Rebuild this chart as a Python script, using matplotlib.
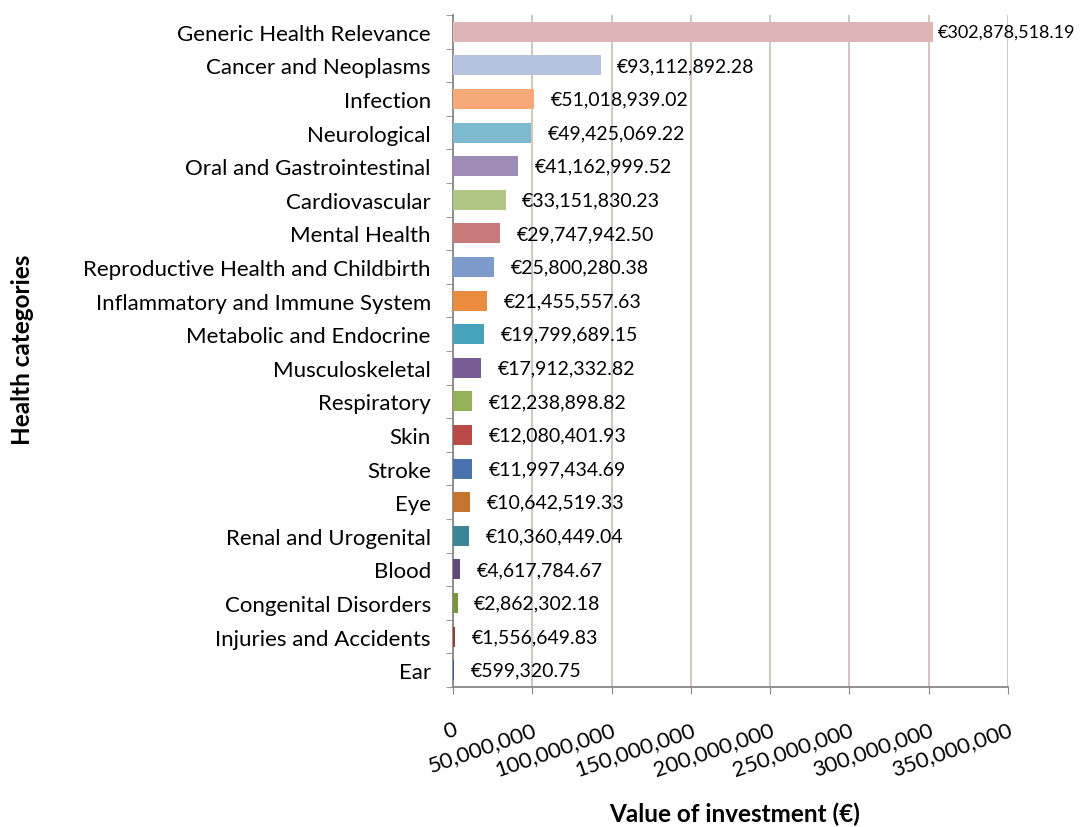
import matplotlib.pyplot as plt
import numpy as np
from matplotlib.ticker import FuncFormatter

# health categories, top to bottom as shown in the chart
categories = [
    "Generic Health Relevance", "Cancer and Neoplasms", "Infection", "Neurological",
    "Oral and Gastrointestinal", "Cardiovascular", "Mental Health",
    "Reproductive Health and Childbirth", "Inflammatory and Immune System",
    "Metabolic and Endocrine", "Musculoskeletal", "Respiratory", "Skin", "Stroke",
    "Eye", "Renal and Urogenital", "Blood", "Congenital Disorders",
    "Injuries and Accidents", "Ear",
]

# value of investment in euro
values = [
    302878518.19, 93112892.28, 51018939.02, 49425069.22, 41162999.52,
    33151830.23, 29747942.50, 25800280.38, 21455557.63, 19799689.15,
    17912332.82, 12238898.82, 12080401.93, 11997434.69, 10642519.33,
    10360449.04, 4617784.67, 2862302.18, 1556649.83, 599320.75,
]

colors = [
    "#DDB5B5", "#B6C3E0", "#F8A979", "#7DB9CF", "#9E8BB6", "#AFC685", "#C97B7B",
    "#7F9BCB", "#EB8D40", "#47A3BB", "#775C97", "#94B257", "#B94A48", "#4A72AE",
    "#C4742F", "#3A8597", "#614A7B", "#789540", "#983B39", "#3A5F94",
]

plt.rcParams["font.family"] = ["Lato", "DejaVu Sans"]

fig = plt.figure(figsize=(10.85, 8.28), dpi=100)
ax = fig.add_axes([0.4175, 0.1691, 0.5115, 0.8116])

y = np.arange(len(categories))
ax.barh(y, values, height=0.6, color=colors, zorder=3)

xmax = 350000000
ax.set_xlim(0, xmax)
ax.set_ylim(len(categories) - 0.5, -0.5)

# data labels (the long one near the edge is pulled in and a bit smaller)
for yi, v in zip(y, values):
    near_edge = v > 0.8 * xmax
    ax.annotate("€{:,.2f}".format(v), (v, yi), xytext=(3 if near_edge else 12, 0),
                textcoords="offset points", va="center", ha="left",
                fontsize=13 if near_edge else 14, zorder=4)

ax.set_xticks(np.arange(0, xmax + 1, 50000000))
ax.xaxis.set_major_formatter(FuncFormatter(lambda x, p: "{:,.0f}".format(x)))
plt.setp(ax.get_xticklabels(), rotation=19, ha="right", va="top",
         rotation_mode="anchor", fontsize=16)
ax.tick_params(axis="x", length=5, color="#888888", pad=18)

ax.set_yticks(y)
ax.set_yticklabels(categories, fontsize=16)
ax.set_yticks(np.arange(-0.5, len(categories), 1), minor=True)
ax.tick_params(axis="y", which="major", length=0, pad=16)
ax.tick_params(axis="y", which="minor", length=5, color="#888888")

ax.grid(axis="x", color="#D3C7BF", linewidth=1.5, zorder=0)
for s in ["top", "right"]:
    ax.spines[s].set_visible(False)
for s in ["left", "bottom"]:
    ax.spines[s].set_color("#888888")
    ax.spines[s].set_linewidth(1.3)

fig.text(0.0205, 0.578, "Health categories", rotation=90, ha="center", va="center",
         fontsize=17.5, fontweight="bold")
fig.text(0.677, 0.016, "Value of investment (€)", ha="center", va="center",
         fontsize=17.5, fontweight="bold")

fig.savefig("out.png", dpi=100)
